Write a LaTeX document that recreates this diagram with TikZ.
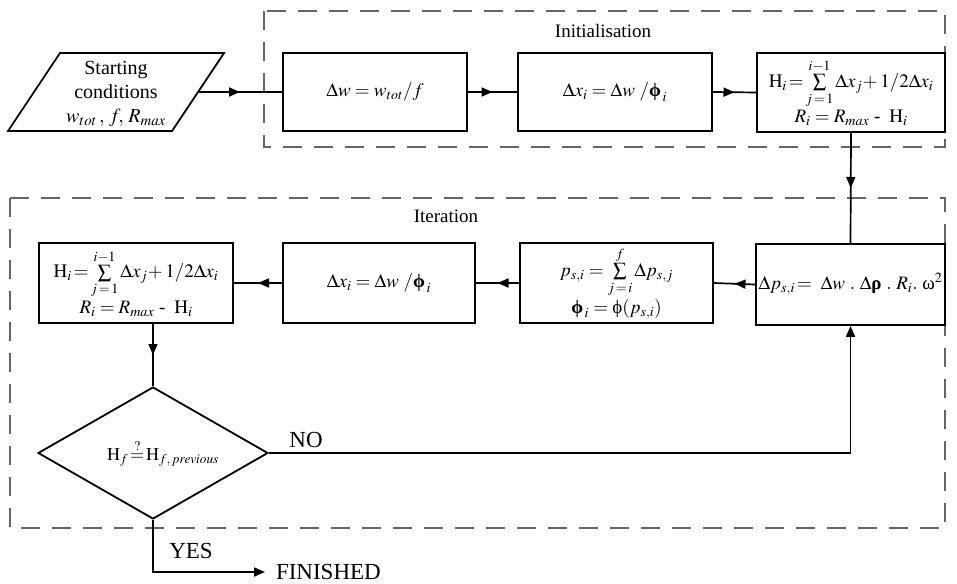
\documentclass[tikz,border=0pt]{standalone}
\usepackage{mathptmx}
\usepackage{fontspec}
\setmainfont{Liberation Serif}
\usetikzlibrary{arrows.meta,decorations.markings,shapes.geometric}
\newcommand{\gph}{\mbox{\bfseries ϕ}}
\newcommand{\grho}{\mbox{\bfseries ρ}}
\newcommand{\gom}{\mbox{ω}}
\begin{document}
\begin{tikzpicture}[x=1pt,y=-1pt,
  box/.style={draw, line width=1.8pt, inner sep=2pt, align=center, font=\fontsize{19}{22}\selectfont},
  region/.style={draw=black!60, line width=1.8pt, dash pattern=on 19pt off 12pt},
  conn/.style={line width=1.7pt},
  midarrow/.style={postaction={decorate}, decoration={markings, mark=at position 0.5 with {\arrow{Triangle[length=11pt,width=9pt]}}}},
  endarrow/.style={-{Triangle[length=11pt,width=9pt]}},
  lbl/.style={font=\fontsize{23}{25}\selectfont, inner sep=0pt},
  title/.style={font=\fontsize{19}{22}\selectfont, inner sep=0pt}]
\useasboundingbox (0,0) rectangle (957,583);
% regions
\draw[region] (264,11) rectangle (945,147);
\draw[region] (10,198) rectangle (945,528);
\node[title] (tinit) at (603,31) {Initialisation};
\node[title] (titer) at (446,216) {Iteration};
% start parallelogram
\draw[line width=1.8pt] (60,53) -- (224,53) -- (172,131) -- (8,131) -- cycle;
\coordinate (startE) at (198,92);
\node[align=center, font=\fontsize{20}{24}\selectfont, inner sep=0pt] (start) at (116,94)
  {Starting\\conditions\\$w_{tot}\,,\,f\!,\,R_{max}$};
% initialisation boxes
\node[box, minimum width=184pt, minimum height=78pt] (bw) at (375,92) {$\Delta w = w_{tot}/f$};
\node[box, minimum width=194pt, minimum height=78pt] (bx1) at (615,92) {$\Delta x_i = \Delta w\ /\gph_{\,i}$};
\node[box, minimum width=188pt, minimum height=79pt] (bh1) at (851,92.5)
  {$\mathrm{H}_i\!=\!\sum\limits_{j\,=\,1}^{i-1}\Delta x_j\!+1/2\Delta x_i$\\[1pt]$R_i = R_{max}\mbox{ - }\;\mathrm{H}_i$};
% iteration boxes
\node[box, minimum width=194pt, minimum height=80pt] (bh2) at (136,283)
  {$\mathrm{H}_i\!=\!\sum\limits_{j\,=\,1}^{i-1}\Delta x_j\!+1/2\Delta x_i$\\[1pt]$R_i = R_{max}\mbox{ - }\;\mathrm{H}_i$};
\node[box, minimum width=192pt, minimum height=80pt] (bx2) at (379,283) {$\Delta x_i = \Delta w\ /\gph_{\,i}$};
\node[box, minimum width=193pt, minimum height=80pt] (bps) at (616.5,283)
  {$p_{s,i}=\sum\limits_{j\,=\,i}^{f}\Delta p_{s,j}$\\[1pt]$\gph_{\,i}=\mbox{ϕ}(p_{s,i})$};
\node[box, minimum width=189pt, minimum height=81pt] (bp) at (850.5,284.5)
  {$\Delta p_{s,i}\!=\ \Delta w\ .\ \Delta\grho\ .\ R_i.\ \gom^{2}$};
% decision
\node[draw, diamond, line width=1.8pt, minimum width=230pt, minimum height=132pt, inner sep=0pt,
  font=\fontsize{18}{21}\selectfont] (dia) at (153,453)
  {\makebox[0pt]{\hspace*{20pt}$\mathrm{H}_f\!\stackrel{?}{=}\!\mathrm{H}_{f,\,previous}$}};
\node[lbl] (no) at (306,440) {NO};
\node[lbl] (yes) at (191,551) {YES};
\node[lbl, anchor=west, inner sep=0pt, outer sep=0pt] (fin) at (276,572) {FINISHED};
\coordinate (finT) at (265,572);
% connectors
\draw[conn, midarrow] (startE) -- (bw.west);
\draw[conn, midarrow] (bw.east) -- (bx1.west);
\draw[conn, midarrow] (bx1.east) -- (bh1.west);
\draw[conn, midarrow] (bh1.south) -- (bp.north);
\draw[conn, midarrow] (bp.west) -- (bps.east);
\draw[conn, midarrow] (bps.west) -- (bx2.east);
\draw[conn, midarrow] (bx2.west) -- (bh2.east);
\draw[conn, midarrow] (bh2.south -| dia.north) -- (dia.north);
\draw[conn, endarrow] (dia.east) -| (bp.south);
\draw[conn, endarrow] (dia.south) |- (finT);
\end{tikzpicture}
\end{document}
